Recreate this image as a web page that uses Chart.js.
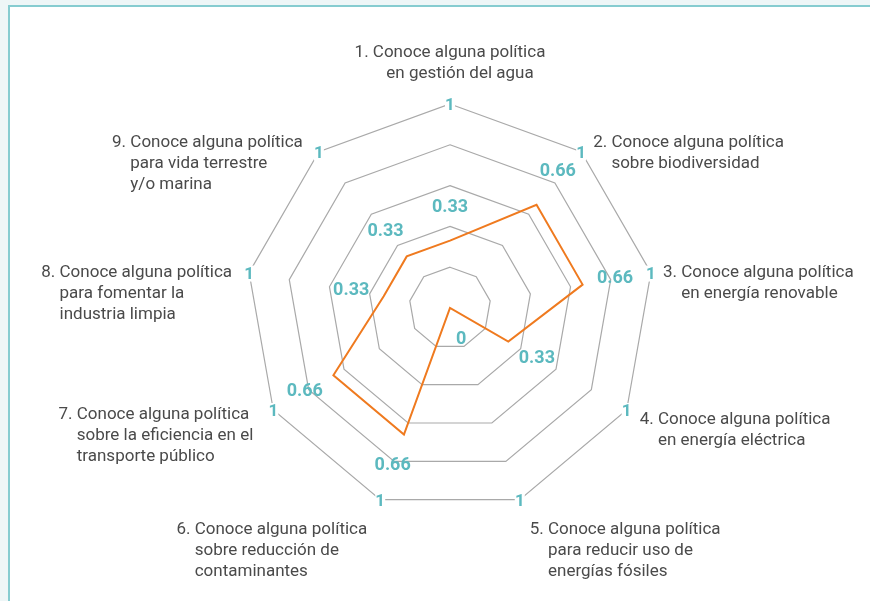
<!DOCTYPE html>
<html>
<head>
<meta charset="utf-8">
<script src="https://cdn.jsdelivr.net/npm/chart.js@4.4.1/dist/chart.umd.min.js"></script>
<style>
html, body { margin: 0; padding: 0; background: #eef6f7; overflow: hidden; }
#frame { position: absolute; left: 8px; top: 5px; width: 870px; height: 600px; background: #fff;
         border-top: 2px solid #86ccd0; border-left: 2px solid #86ccd0; }
#wrap { position: absolute; left: 0; top: 0; width: 870px; height: 601px; }
</style>
</head>
<body>
<div id="frame"></div>
<div id="wrap"><canvas id="radarChart"></canvas></div>
<script>
const categories = [
    ['1. Conoce alguna política', 'en gestión del agua'],
    ['2. Conoce alguna política', 'sobre biodiversidad'],
    ['3. Conoce alguna política', 'en energía renovable'],
    ['4. Conoce alguna política', 'en energía eléctrica'],
    ['5. Conoce alguna política', 'para reducir uso de', 'energías fósiles'],
    ['6. Conoce alguna política', 'sobre reducción de', 'contaminantes'],
    ['7. Conoce alguna política', 'sobre la eficiencia en el', 'transporte público'],
    ['8. Conoce alguna política', 'para fomentar la', 'industria limpia'],
    ['9. Conoce alguna política', 'para vida terrestre', 'y/o marina']
];
const values = [0.33, 0.66, 0.66, 0.33, 0, 0.66, 0.66, 0.33, 0.33];
const valueLabels = ['0.33', '0.66', '0.66', '0.33', '0', '0.66', '0.66', '0.33', '0.33'];
const outerTickLabel = '1';

const teal = '#5cb9bf';
const textColor = '#4a4a4a';

// offsets of each category label from its outer vertex
const labelDx = [0, 12, 12, 13, 10, -13, -20, -17, -16];
const labelDy = [-51, -9, 0, 10, 30, 30, 5, 0, -9];

const textPlugin = {
    id: 'radarText',
    afterDraw(chart) {
        const scale = chart.scales.r;
        const ctx = chart.ctx;
        ctx.save();
        ctx.textBaseline = 'middle';

        // "1" on every outer vertex
        ctx.font = 'bold 17px Roboto';
        ctx.textAlign = 'center';
        categories.forEach((c, i) => {
            const p = scale.getPointPosition(i, scale.drawingArea);
            ctx.fillStyle = '#fff';
            ctx.fillRect(p.x - 5, p.y - 7, 10, 16);
            ctx.fillStyle = teal;
            ctx.fillText(outerTickLabel, p.x, p.y + 2);
        });

        // value labels next to each point
        ctx.font = 'bold 18px Roboto';
        values.forEach((v, i) => {
            const p = scale.getPointPosition(i, scale.getDistanceFromCenterForValue(v) + 33);
            ctx.fillText(valueLabels[i], p.x, p.y - (i === 1 ? 8 : 0));
        });

        // category labels with hanging indent
        ctx.font = '17px Roboto';
        ctx.fillStyle = textColor;
        categories.forEach((lines, i) => {
            const p = scale.getPointPosition(i, scale.drawingArea);
            const y0 = p.y + labelDy[i];
            if (i === 0) {
                ctx.textAlign = 'center';
                lines.forEach((l, k) => ctx.fillText(l, p.x + (k ? 10 : 0), y0 + k * 21));
                return;
            }
            ctx.textAlign = 'left';
            const indent = ctx.measureText(lines[0].slice(0, 3)).width;
            let left = p.x + labelDx[i];
            if (i >= 5) {
                const widths = lines.map((l, k) => ctx.measureText(l).width + (k ? indent : 0));
                left = p.x + labelDx[i] - Math.max(...widths);
            }
            lines.forEach((l, k) => ctx.fillText(l, left + (k ? indent : 0), y0 + k * 21));
        });
        ctx.restore();
    }
};

new Chart(document.getElementById('radarChart'), {
    type: 'radar',
    data: {
        labels: categories,
        datasets: [{
            data: values,
            borderColor: '#ef7a1f',
            borderWidth: 2,
            fill: false,
            pointRadius: 0,
            tension: 0
        }]
    },
    options: {
        responsive: true,
        maintainAspectRatio: false,
        animation: false,
        layout: { padding: { left: 246, right: 216, top: 104, bottom: 89 } },
        plugins: {
            legend: { display: false },
            tooltip: { enabled: false }
        },
        scales: {
            r: {
                min: 0,
                max: 1,
                ticks: { display: false, stepSize: 0.2 },
                pointLabels: { display: false },
                angleLines: { display: false },
                grid: { circular: false, color: '#a9a9a9', lineWidth: 1.2 }
            }
        }
    },
    plugins: [textPlugin]
});
</script>
</body>
</html>
